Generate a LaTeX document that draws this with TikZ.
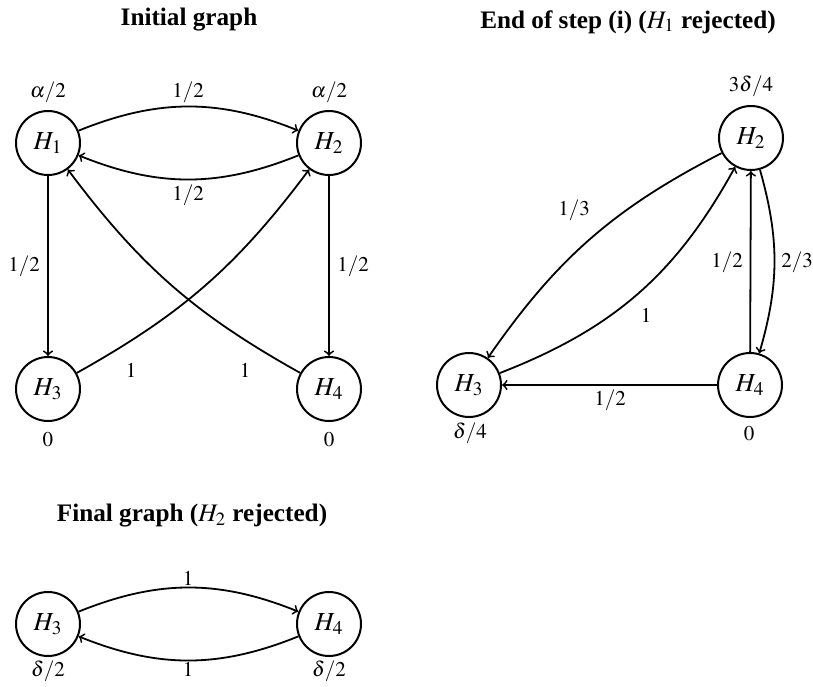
\documentclass[tikz,border=0pt]{standalone}
\usepackage{mathptmx}
\usepackage{fontspec}
\setmainfont{Liberation Serif}

\begin{document}
\begin{tikzpicture}[x=0.5pt,y=0.5pt,yscale=-1,
  hyp/.style={circle,draw,line width=1pt,minimum size=32pt,inner sep=0pt,font=\fontsize{13}{15}\selectfont},
  wt/.style={font=\fontsize{10.5}{12}\selectfont,inner sep=1pt},
  ttl/.style={font=\fontsize{12.6}{15}\selectfont\bfseries},
  arc/.style={->,line width=0.9pt}]
\useasboundingbox (0,0) rectangle (813,686);

% Initial graph
\node[ttl] (t0) at (189,20) {Initial graph};
\node[hyp] (a1) at (48,143) {$H_1$};
\node[hyp] (a2) at (329,143) {$H_2$};
\node[hyp] (a3) at (48,389) {$H_3$};
\node[hyp] (a4) at (329,389) {$H_4$};
\node[wt] (va1) at (48,92) {$\alpha/2$};
\node[wt] (va2) at (329,92) {$\alpha/2$};
\node[wt] (va3) at (48,440) {$0$};
\node[wt] (va4) at (329,440) {$0$};

% (yscale=-1 swaps left and right bends)
\draw[arc] (a1) to[bend right=22] (a2);
\draw[arc] (a2) to[bend right=22] (a1);
\draw[arc] (a1) -- (a3);
\draw[arc] (a2) -- (a4);
\draw[arc] (a3) to[bend left=12] (a2);
\draw[arc] (a4) to[bend right=12] (a1);

\node[wt] (w12) at (188,92) {$1/2$};
\node[wt] (w21) at (188,195) {$1/2$};
\node[wt] (w13) at (24,266) {$1/2$};
\node[wt] (w24) at (353,266) {$1/2$};
\node[wt] (w32) at (131,370) {$1$};
\node[wt] (w41) at (245,370) {$1$};

% End of step (i)
\node[ttl] (t1) at (628,22) {End of step (i) ($H_1$ rejected)};
\node[hyp] (b2) at (751,138) {$H_2$};
\node[hyp] (b3) at (469,385) {$H_3$};
\node[hyp] (b4) at (750,385) {$H_4$};
\node[wt] (vb2) at (751,86) {$3\delta/4$};
\node[wt] (vb3) at (470,433) {$\delta/4$};
\node[wt] (vb4) at (749,434) {$0$};

\draw[arc] (b2) to[bend left=14] (b3);
\draw[arc] (b3) to[bend left=20] (b2);
\draw[arc] (b4) -- (b2);
\draw[arc] (b2) to[bend right=16] (b4);
\draw[arc] (b4) -- (b3);

\node[wt] (w23) at (574,210) {$1/3$};
\node[wt] (w32b) at (646,315) {$1$};
\node[wt] (w42) at (727,262) {$1/2$};
\node[wt] (w24b) at (797,262) {$2/3$};
\node[wt] (w43) at (610,400) {$1/2$};

% Final graph
\node[ttl] (t2) at (192,516) {Final graph ($H_2$ rejected)};
\node[hyp] (c3) at (48,624) {$H_3$};
\node[hyp] (c4) at (329,624) {$H_4$};
\node[wt] (vc3) at (48,671) {$\delta/2$};
\node[wt] (vc4) at (329,671) {$\delta/2$};

\draw[arc] (c3) to[bend right=22] (c4);
\draw[arc] (c4) to[bend right=22] (c3);

\node[wt] (w34) at (188,578) {$1$};
\node[wt] (w43c) at (188,669) {$1$};

\end{tikzpicture}
\end{document}
